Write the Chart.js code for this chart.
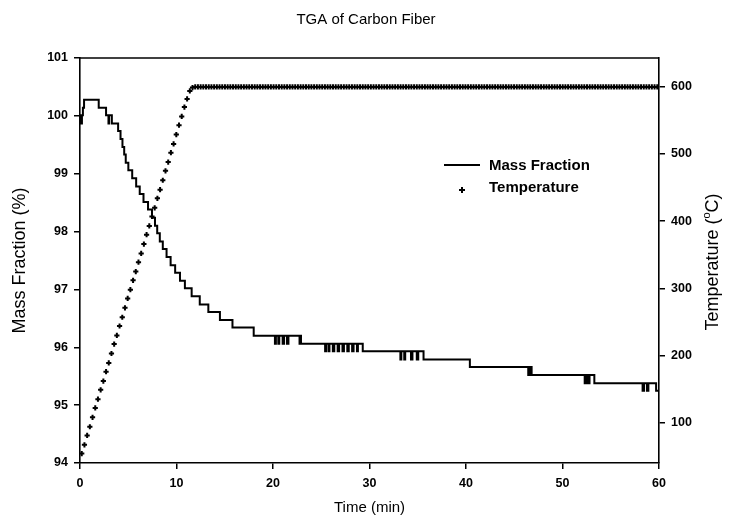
<!DOCTYPE html>
<html>
<head>
<meta charset="utf-8">
<script src="https://cdn.jsdelivr.net/npm/chart.js@4/dist/chart.umd.min.js"></script>
<style>
  html, body { margin: 0; padding: 0; background: #fff; }
  #wrap { position: relative; width: 732px; height: 529px; }
  #legend { position: absolute; left: 0; top: 0; font-family: "Liberation Sans", Arial, sans-serif; font-weight: bold; font-size: 15px; color: #000; }
  .lg-row { position: absolute; left: 489px; white-space: nowrap; line-height: 18px; }
  .lg-line { position: absolute; left: 444px; top: 164px; width: 36px; height: 2px; background: #000; }
  .lg-h { position: absolute; left: 459px; top: 189px; width: 6px; height: 2px; background: #000; }
  .lg-v { position: absolute; left: 461px; top: 187px; width: 2px; height: 6px; background: #000; }
</style>
</head>
<body>
<div id="wrap">
  <canvas id="tga" width="732" height="529"></canvas>
  <div id="legend">
    <div class="lg-line"></div>
    <div class="lg-row" style="top:156px">Mass Fraction</div>
    <div class="lg-h"></div><div class="lg-v"></div>
    <div class="lg-row" style="top:178px">Temperature</div>
  </div>
</div>
<script>
// ─── DATA ───
// mass fraction (%), each value holds from its time until the next one
const massTime = [
  0, 0.08, 0.2, 0.3, 0.42, 1.94, 2.7, 2.95, 3.02, 3.3,
  3.95, 4.2, 4.4, 4.58, 4.74, 5.01, 5.41, 5.82, 6.19, 6.58,
  7.05, 7.46, 7.77, 8.0, 8.27, 8.58, 8.97, 9.39, 9.86, 10.36,
  10.87, 11.57, 12.41, 13.3, 14.5, 15.8, 18.0,
  20.2, 20.3, 20.55, 20.65, 21.0, 21.15, 21.45, 21.6, 22.75, 22.85, 22.9,
  25.4, 25.5, 25.75, 25.85, 26.2, 26.35, 26.7, 26.85, 27.2, 27.35, 27.7, 27.85, 28.2, 28.35, 28.7, 28.8, 29.3,
  33.2, 33.3, 33.6, 33.7, 34.3, 34.45, 34.9, 35.05, 35.6,
  40.4, 46.45, 46.6, 46.8,
  52.3, 52.45, 52.65, 52.8, 53.3,
  58.3, 58.45, 58.75, 58.9, 59.7, 60
];
const massValue = [
  100.01, 99.87, 100.01, 100.14, 100.28, 100.14, 100.01, 99.87, 100.01, 99.87,
  99.74, 99.60, 99.46, 99.33, 99.19, 99.06, 98.92, 98.78, 98.65, 98.51,
  98.38, 98.24, 98.10, 97.97, 97.83, 97.70, 97.56, 97.42, 97.29, 97.15,
  97.02, 96.88, 96.74, 96.61, 96.47, 96.34, 96.20,
  96.06, 96.20, 96.06, 96.20, 96.06, 96.20, 96.06, 96.20, 96.06, 96.20, 96.06,
  95.93, 96.06, 95.93, 96.06, 95.93, 96.06, 95.93, 96.06, 95.93, 96.06, 95.93, 96.06, 95.93, 96.06, 95.93, 96.06, 95.93,
  95.79, 95.93, 95.79, 95.93, 95.79, 95.93, 95.79, 95.93, 95.79,
  95.66, 95.52, 95.66, 95.52,
  95.38, 95.52, 95.38, 95.52, 95.38,
  95.25, 95.38, 95.25, 95.38, 95.25, 95.25
];

// furnace temperature (°C)
const tempTime = [
  0.18, 0.46, 0.74, 1.02, 1.30, 1.58, 1.86, 2.14, 2.42, 2.70, 2.98, 3.26, 3.54, 3.82, 4.10, 4.38, 4.66, 4.94, 5.22, 5.50, 5.78, 6.06, 6.34, 6.62, 6.90,
  7.18, 7.46, 7.74, 8.02, 8.30, 8.58, 8.86, 9.14, 9.42, 9.70, 9.98, 10.26, 10.54, 10.82, 11.10, 11.38, 11.66, 11.94, 12.22, 12.50, 12.78, 13.06, 13.34, 13.62, 13.90,
  14.18, 14.46, 14.74, 15.02, 15.30, 15.58, 15.86, 16.14, 16.42, 16.70, 16.98, 17.26, 17.54, 17.82, 18.10, 18.38, 18.66, 18.94, 19.22, 19.50, 19.78, 20.06, 20.34, 20.62, 20.90,
  21.18, 21.46, 21.74, 22.02, 22.30, 22.58, 22.86, 23.14, 23.42, 23.70, 23.98, 24.26, 24.54, 24.82, 25.10, 25.38, 25.66, 25.94, 26.22, 26.50, 26.78, 27.06, 27.34, 27.62, 27.90,
  28.18, 28.46, 28.74, 29.02, 29.30, 29.58, 29.86, 30.14, 30.42, 30.70, 30.98, 31.26, 31.54, 31.82, 32.10, 32.38, 32.66, 32.94, 33.22, 33.50, 33.78, 34.06, 34.34, 34.62, 34.90,
  35.18, 35.46, 35.74, 36.02, 36.30, 36.58, 36.86, 37.14, 37.42, 37.70, 37.98, 38.26, 38.54, 38.82, 39.10, 39.38, 39.66, 39.94, 40.22, 40.50, 40.78, 41.06, 41.34, 41.62, 41.90,
  42.18, 42.46, 42.74, 43.02, 43.30, 43.58, 43.86, 44.14, 44.42, 44.70, 44.98, 45.26, 45.54, 45.82, 46.10, 46.38, 46.66, 46.94, 47.22, 47.50, 47.78, 48.06, 48.34, 48.62, 48.90,
  49.18, 49.46, 49.74, 50.02, 50.30, 50.58, 50.86, 51.14, 51.42, 51.70, 51.98, 52.26, 52.54, 52.82, 53.10, 53.38, 53.66, 53.94, 54.22, 54.50, 54.78, 55.06, 55.34, 55.62, 55.90,
  56.18, 56.46, 56.74, 57.02, 57.30, 57.58, 57.86, 58.14, 58.42, 58.70, 58.98, 59.26, 59.54, 59.82
];
const tempValue = [
  54, 67, 81, 94, 108, 122, 135, 149, 162, 176, 189, 203, 217, 230, 244, 257, 271, 285, 298, 312, 325, 339, 352, 366, 380,
  393, 407, 420, 434, 447, 461, 475, 488, 502, 515, 529, 543, 556, 570, 582, 594, 599, 600, 600, 600, 600, 600, 600, 600, 600,
  600, 600, 600, 600, 600, 600, 600, 600, 600, 600, 600, 600, 600, 600, 600, 600, 600, 600, 600, 600, 600, 600, 600, 600, 600,
  600, 600, 600, 600, 600, 600, 600, 600, 600, 600, 600, 600, 600, 600, 600, 600, 600, 600, 600, 600, 600, 600, 600, 600, 600,
  600, 600, 600, 600, 600, 600, 600, 600, 600, 600, 600, 600, 600, 600, 600, 600, 600, 600, 600, 600, 600, 600, 600, 600, 600,
  600, 600, 600, 600, 600, 600, 600, 600, 600, 600, 600, 600, 600, 600, 600, 600, 600, 600, 600, 600, 600, 600, 600, 600, 600,
  600, 600, 600, 600, 600, 600, 600, 600, 600, 600, 600, 600, 600, 600, 600, 600, 600, 600, 600, 600, 600, 600, 600, 600, 600,
  600, 600, 600, 600, 600, 600, 600, 600, 600, 600, 600, 600, 600, 600, 600, 600, 600, 600, 600, 600, 600, 600, 600, 600, 600,
  600, 600, 600, 600, 600, 600, 600, 600, 600, 600, 600, 600, 600, 600
];

const timeTicks = [0, 10, 20, 30, 40, 50, 60];
const massTicks = [94, 95, 96, 97, 98, 99, 100, 101];
const tempTicks = [100, 200, 300, 400, 500, 600];

// ─── CHART ───
const FONT = '"Liberation Sans", Arial, sans-serif';
Chart.defaults.font.family = FONT;
Chart.defaults.color = '#000';

const tickFont = { size: 12.5, weight: 'bold', family: FONT };
const axisGrid = { drawOnChartArea: false, drawTicks: true, tickLength: 6, color: '#000', lineWidth: 1.5 };
const axisBorder = { display: true, color: '#000', width: 1.6 };

// frame top line + right title (reads bottom-to-top, superscript o)
const framePlugin = {
  id: 'frame',
  afterDraw(chart) {
    const { ctx, chartArea: a } = chart;
    ctx.save();
    ctx.strokeStyle = '#000';
    ctx.lineWidth = 1.5;
    ctx.beginPath();
    ctx.moveTo(a.left, a.top);
    ctx.lineTo(a.right, a.top);
    ctx.stroke();

    ctx.translate(713, 262);
    ctx.rotate(-Math.PI / 2);
    ctx.fillStyle = '#000';
    ctx.textBaseline = 'middle';
    const big = '18px ' + FONT, small = '11px ' + FONT;
    ctx.font = big;
    const w1 = ctx.measureText('Temperature (').width;
    const w3 = ctx.measureText('C)').width;
    ctx.font = small;
    const w2 = ctx.measureText('o').width;
    let x = -(w1 + w2 + w3) / 2;
    ctx.font = big;
    ctx.fillText('Temperature (', x, 0);
    x += w1;
    ctx.font = small;
    ctx.fillText('o', x, -6);
    x += w2;
    ctx.font = big;
    ctx.fillText('C)', x, 0);
    ctx.restore();
  }
};

new Chart(document.getElementById('tga'), {
  data: {
    datasets: [
      {
        type: 'line',
        label: 'Mass Fraction',
        data: massTime.map((t, i) => ({ x: t, y: massValue[i] })),
        yAxisID: 'y',
        borderColor: '#000',
        borderWidth: 2,
        pointRadius: 0,
        stepped: 'before',
        fill: false,
      },
      {
        type: 'scatter',
        label: 'Temperature',
        data: tempTime.map((t, i) => ({ x: t, y: tempValue[i] })),
        yAxisID: 'y2',
        showLine: false,
        pointStyle: 'cross',
        pointRadius: 2.6,
        borderColor: '#000',
        borderWidth: 2,
        backgroundColor: '#000',
      }
    ]
  },
  options: {
    responsive: false,
    animation: false,
    devicePixelRatio: 1,
    layout: { padding: 0 },
    plugins: {
      legend: { display: false },
      tooltip: { enabled: false },
      title: {
        display: true,
        text: 'TGA of Carbon Fiber',
        font: { size: 15, weight: 'normal', family: FONT },
        color: '#000',
        padding: { top: 11, bottom: 29 },
      }
    },
    scales: {
      x: {
        type: 'linear',
        position: 'bottom',
        min: 0, max: 60,
        afterBuildTicks: s => { s.ticks = timeTicks.map(v => ({ value: v })); },
        ticks: { font: tickFont, color: '#000', padding: 7, maxRotation: 0 },
        grid: axisGrid,
        border: axisBorder,
        title: {
          display: true, text: 'Time (min)', color: '#000',
          font: { size: 15, family: FONT },
          padding: { top: 0, bottom: 12 },
        },
        afterFit: s => { s.height = 66; },
      },
      y: {
        type: 'linear',
        position: 'left',
        min: 94, max: 101,
        afterBuildTicks: s => { s.ticks = massTicks.map(v => ({ value: v })); },
        ticks: { font: tickFont, color: '#000', padding: 6 },
        grid: axisGrid,
        border: axisBorder,
        title: {
          display: true, text: 'Mass Fraction (%)', color: '#000',
          font: { size: 18, family: FONT },
          padding: { top: 9, bottom: 0 },
        },
        afterFit: s => { s.width = 80; },
      },
      y2: {
        type: 'linear',
        position: 'right',
        min: 40, max: 643,
        afterBuildTicks: s => { s.ticks = tempTicks.map(v => ({ value: v })); },
        ticks: { font: tickFont, color: '#000', padding: 6 },
        grid: axisGrid,
        border: axisBorder,
        afterFit: s => { s.width = 73; },
      }
    }
  },
  plugins: [framePlugin]
});
</script>
</body>
</html>
